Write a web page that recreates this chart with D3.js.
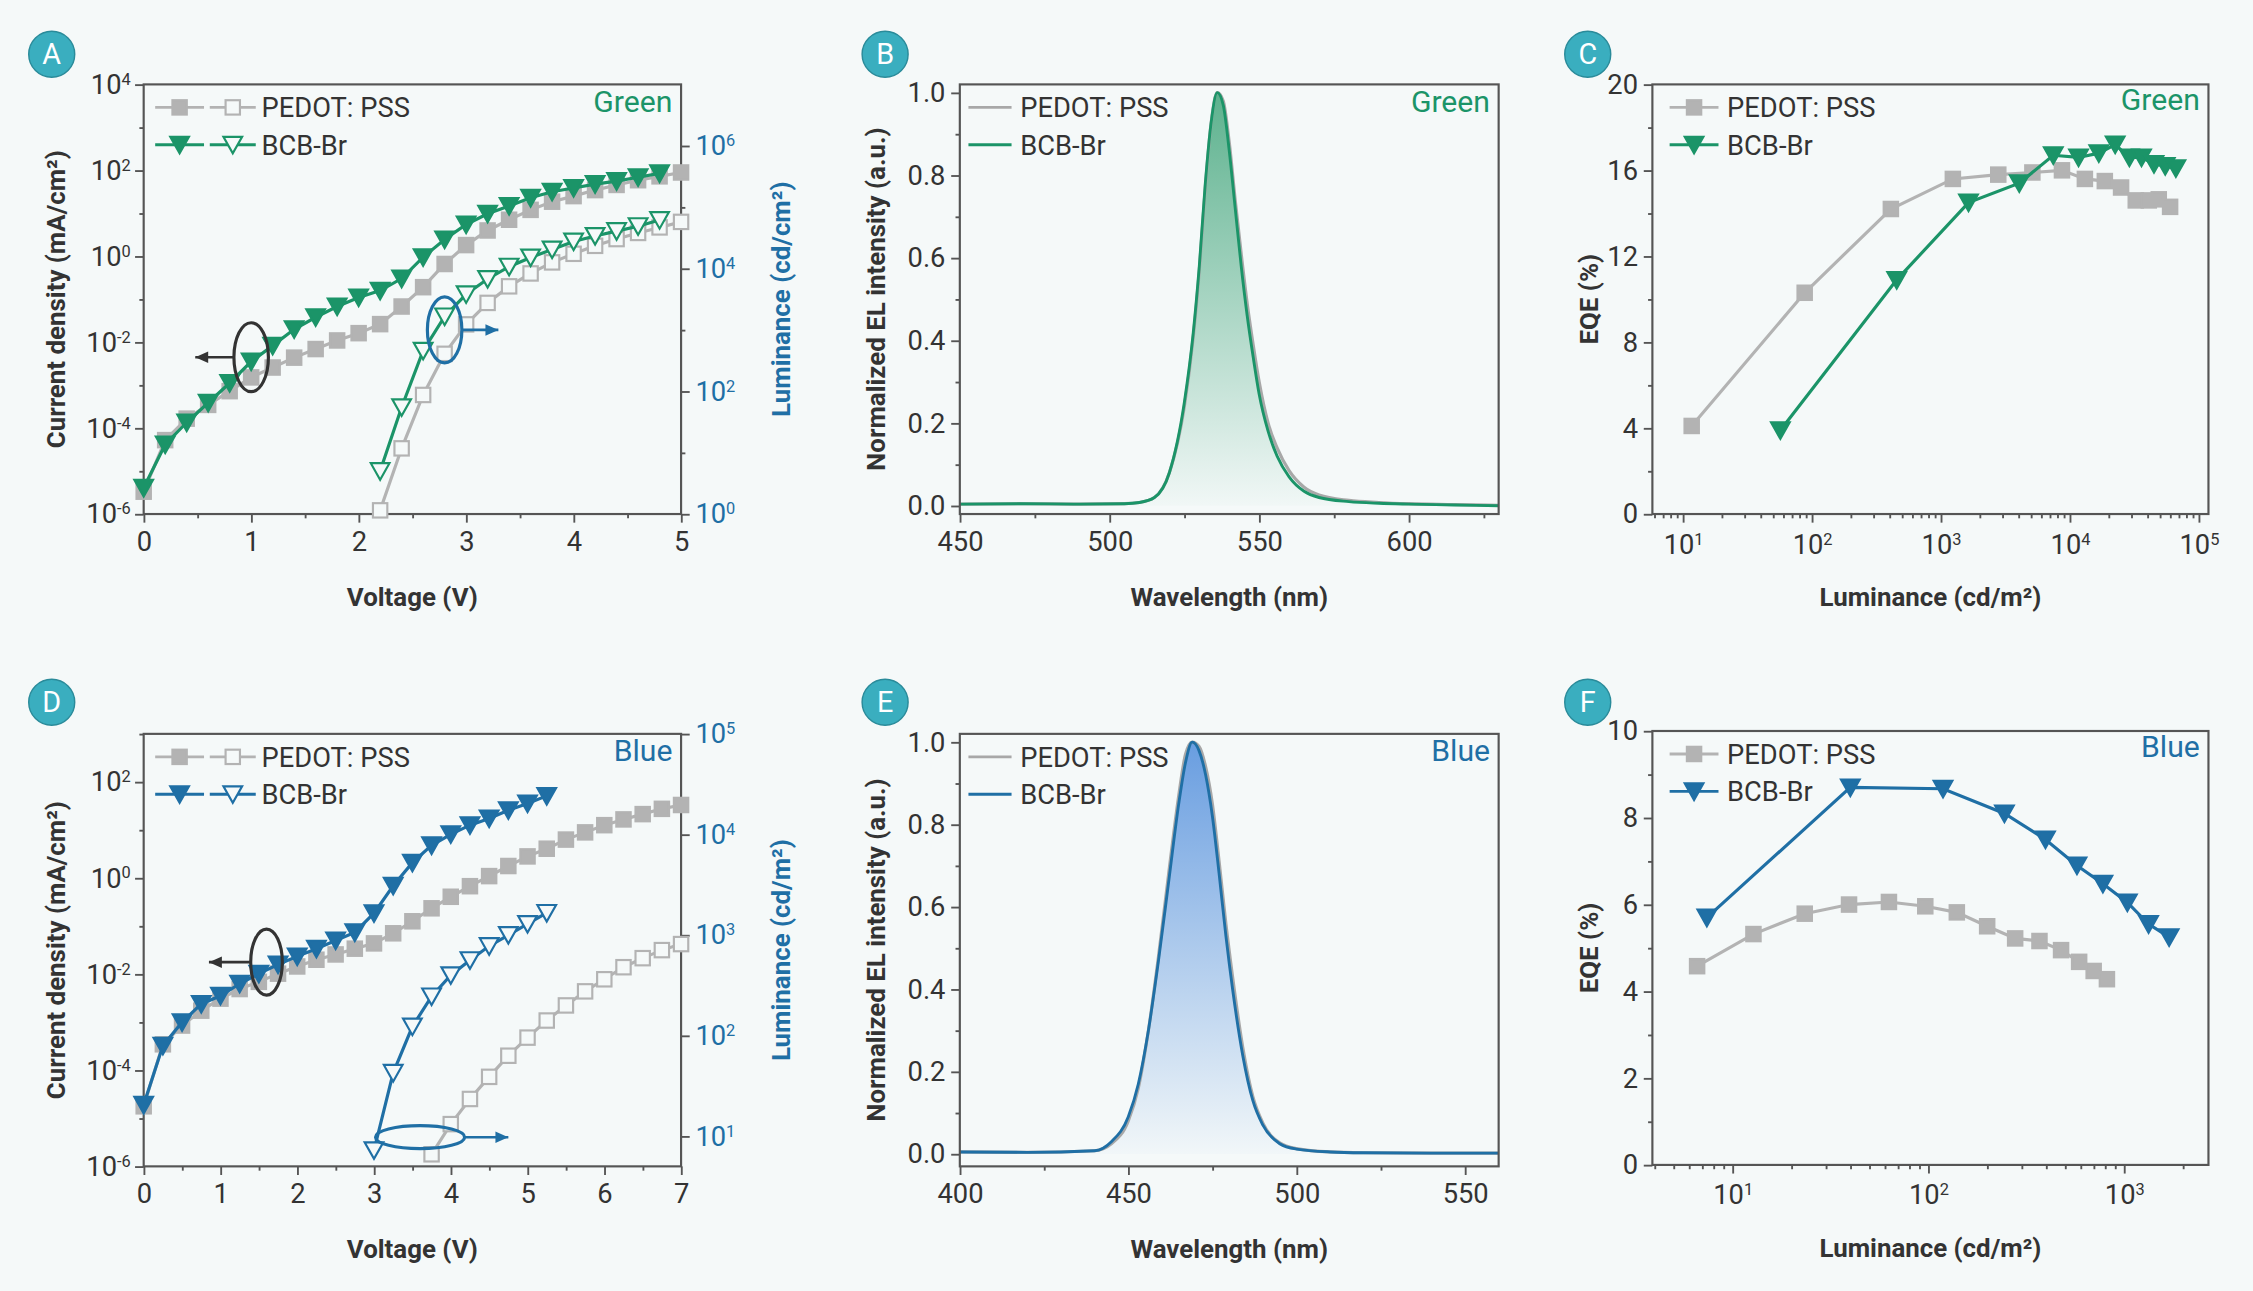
<!DOCTYPE html>
<html><head><meta charset="utf-8">
<script src="https://cdn.jsdelivr.net/npm/d3@7"></script>
<style>
 body{margin:0;background:#f5f9f9;}
 text{font-family:Roboto,"Noto Sans",sans-serif;fill:#333;}
</style></head><body>
<script>
// ---- data ----
const vA = [0,0.2,0.4,0.6,0.8,1.0,1.2,1.4,1.6,1.8,2.0,2.2,2.4,2.6,2.8,3.0,3.2,3.4,3.6,3.8,4.0,4.2,4.4,4.6,4.8,5.0];
const jA_pedot = [-5.48,-4.28,-3.78,-3.46,-3.14,-2.82,-2.59,-2.36,-2.16,-1.96,-1.79,-1.58,-1.17,-0.72,-0.18,0.26,0.60,0.85,1.08,1.27,1.40,1.54,1.66,1.77,1.86,1.95];
const jA_bcb = [-5.39,-4.38,-3.87,-3.41,-2.95,-2.45,-2.08,-1.70,-1.42,-1.17,-0.96,-0.80,-0.52,-0.02,0.39,0.74,0.99,1.17,1.36,1.50,1.59,1.68,1.75,1.84,1.93];
const vA_lum = [2.2,2.4,2.6,2.8,3.0,3.2,3.4,3.6,3.8,4.0,4.2,4.4,4.6,4.8,5.0];
const lA_pedot = [0.06,1.07,1.94,2.61,3.09,3.44,3.71,3.92,4.10,4.24,4.37,4.48,4.58,4.67,4.76];
const lA_bcb = [0.70,1.74,2.66,3.22,3.58,3.83,4.03,4.18,4.31,4.44,4.53,4.61,4.69,4.79];

const vD = [0,0.25,0.5,0.75,1.0,1.25,1.5,1.75,2.0,2.25,2.5,2.75,3.0,3.25,3.5,3.75,4.0,4.25,4.5,4.75,5.0,5.25,5.5,5.75,6.0,6.25,6.5,6.75,7.0];
const jD_pedot = [-4.75,-3.46,-3.07,-2.76,-2.51,-2.31,-2.16,-1.99,-1.84,-1.70,-1.59,-1.47,-1.36,-1.15,-0.90,-0.63,-0.39,-0.17,0.04,0.25,0.45,0.61,0.80,0.95,1.10,1.22,1.33,1.44,1.52];
const jD_bcb = [-4.72,-3.49,-3.0,-2.62,-2.45,-2.20,-1.99,-1.80,-1.63,-1.47,-1.30,-1.13,-0.73,-0.16,0.32,0.68,0.91,1.10,1.24,1.41,1.55,1.71];
const vD_lumB = [3.0,3.25,3.5,3.75,4.0,4.25,4.5,4.75,5.0,5.25];
const lD_bcb = [0.86,1.63,2.09,2.39,2.60,2.75,2.89,3.00,3.11,3.22];
const vD_lumP = [3.75,4.0,4.25,4.5,4.75,5.0,5.25,5.5,5.75,6.0,6.25,6.5,6.75,7.0];
const lD_pedot = [0.82,1.12,1.37,1.59,1.80,1.98,2.15,2.30,2.44,2.56,2.68,2.77,2.85,2.91];

const wlG = [450,470,490,505,510,515,520,525,528,530,532,534,536,538,540,542,544,546,548,550,553,556,560,565,570,580,590,600,615,630];
const elG_bcb = [0.004,0.005,0.004,0.005,0.008,0.02,0.08,0.25,0.42,0.58,0.78,0.93,1.0,0.97,0.86,0.72,0.58,0.46,0.36,0.27,0.18,0.12,0.07,0.035,0.02,0.01,0.006,0.004,0.002,0.0];
const elG_pedot = [0.004,0.005,0.004,0.005,0.008,0.02,0.08,0.24,0.41,0.57,0.77,0.93,1.0,0.98,0.88,0.74,0.61,0.49,0.39,0.30,0.20,0.14,0.085,0.045,0.026,0.013,0.008,0.005,0.003,0.001];
const wlB = [400,420,440,445,450,453,456,459,462,465,467,469,471,473,475,477,479,481,484,487,490,495,500,510,520,540,560];
const elB_bcb = [0.005,0.004,0.008,0.03,0.09,0.17,0.30,0.47,0.66,0.85,0.95,1.0,0.98,0.92,0.82,0.68,0.53,0.40,0.24,0.13,0.07,0.025,0.012,0.005,0.003,0.002,0.002];
const elB_pedot = [0.005,0.004,0.008,0.025,0.08,0.16,0.30,0.48,0.68,0.87,0.97,1.0,0.99,0.94,0.85,0.71,0.56,0.43,0.26,0.14,0.075,0.027,0.013,0.005,0.003,0.002,0.002];

const lumC_pedot = [11.7,88,410,1240,2790,5130,8700,13100,18700,25000,32500,41000,49000,60000];
const eqeC_pedot = [4.1,10.3,14.2,15.6,15.8,15.9,16.0,15.6,15.5,15.2,14.6,14.6,14.65,14.3];
const lumC_bcb = [57,455,1640,4060,7450,11700,16800,22500,29000,36000,45000,55000,66500];
const eqeC_bcb = [3.9,10.9,14.5,15.4,16.7,16.6,16.8,17.2,16.6,16.6,16.3,16.2,16.1];
const lumF_pedot = [6.6,12.8,23.4,39.4,63,96.6,140,200,278,370,477,590,700,818];
const eqeF_pedot = [4.58,5.32,5.79,6.0,6.06,5.96,5.82,5.5,5.22,5.16,4.95,4.68,4.47,4.28];
const lumF_bcb = [7.4,40,119,245,397,575,780,1040,1335,1700];
const eqeF_bcb = [5.7,8.7,8.67,8.1,7.5,6.9,6.48,6.05,5.55,5.25];

const GREEN = "#1b9468", BLUE = "#1f6fa5", GRAY = "#b3b3b3", AX = "#555";

const svg = d3.select("body").append("svg")
  .attr("width", 2253).attr("height", 1291).attr("viewBox", "0 0 1568 897");
svg.append("rect").attr("width",1568).attr("height",897).attr("fill","#f5f9f9");

function supLabel(sel, base, exp) {
  sel.text(null);
  sel.append("tspan").text(base);
  sel.append("tspan").attr("dy", "-0.55em").attr("font-size", "0.6em").text(exp);
}

function letter(x, y, t) {
  svg.append("circle").attr("cx", x).attr("cy", y).attr("r", 16).attr("fill", "#3aaebf").attr("stroke", "#2a8b9a");
  svg.append("text").attr("x", x).attr("y", y + 7).attr("text-anchor", "middle").attr("font-size", 20)
    .style("fill", "#fff").text(t);
}

function frame(x0, x1, y0, y1) {
  svg.append("rect").attr("x", x0).attr("y", y0).attr("width", x1 - x0).attr("height", y1 - y0)
    .attr("fill", "none").attr("stroke", AX).attr("stroke-width", 1.5);
}

function styleAxis(g, color) {
  g.select(".domain").remove();
  g.selectAll("line").attr("stroke", color || AX).attr("stroke-width", 1.3);
  g.selectAll("text").attr("font-size", 19).style("fill", color || "#333");
}

function ticks(g, orient, scale, vals, len, trans) {
  const a = (orient === "left" ? d3.axisLeft : orient === "right" ? d3.axisRight : d3.axisBottom)(scale)
    .tickValues(vals).tickSize(len).tickFormat("");
  const gg = svg.append("g").attr("transform", trans).call(a);
  gg.select(".domain").remove();
  gg.selectAll("line").attr("stroke", AX).attr("stroke-width", 1.3);
}

function marker(g, type, x, y, color, open, s) {
  s = s || 1;
  if (type === "sq") {
    g.append("rect").attr("x", x - 5*s).attr("y", y - 5*s).attr("width", 10*s).attr("height", 10*s)
      .attr("fill", open ? "#f5f9f9" : color).attr("stroke", color).attr("stroke-width", 1.5);
  } else {
    g.append("path").attr("d", `M${x-6.5*s},${y-5.5*s}L${x+6.5*s},${y-5.5*s}L${x},${y+6*s}Z`)
      .attr("fill", open ? "#f5f9f9" : color).attr("stroke", color).attr("stroke-width", 1.5);
  }
}

function series(xs, ys, sx, sy, color, type, open) {
  const g = svg.append("g");
  const pts = xs.slice(0, ys.length).map((x, i) => [sx(x), sy(ys[i])]);
  g.append("path").attr("d", d3.line()(pts)).attr("fill", "none").attr("stroke", color).attr("stroke-width", 2.2);
  pts.forEach(p => marker(g, type, p[0], p[1], color, open));
}

function legend(x, y, color, dual) {
  const rows = [["PEDOT: PSS", GRAY], ["BCB-Br", color]];
  rows.forEach((r, i) => {
    const yy = y + i * 26;
    const g = svg.append("g");
    g.append("line").attr("x1", x).attr("x2", x + 34).attr("y1", yy).attr("y2", yy).attr("stroke", r[1]).attr("stroke-width", 2);
    marker(g, i ? "tri" : "sq", x + 17, yy, r[1], false);
    let tx = x + 40;
    if (dual) {
      g.append("line").attr("x1", x + 38).attr("x2", x + 70).attr("y1", yy).attr("y2", yy).attr("stroke", r[1]).attr("stroke-width", 2);
      marker(g, i ? "tri" : "sq", x + 54, yy, r[1], true);
      tx = x + 74;
    }
    svg.append("text").attr("x", tx).attr("y", yy + 7).attr("font-size", 19).text(r[0]);
  });
}

function corner(x, y, t, c) {
  svg.append("text").attr("x", x).attr("y", y).attr("text-anchor", "end").attr("font-size", 21).style("fill", c).text(t);
}

function ytitle(x, y, t, c) {
  svg.append("text").attr("transform", `translate(${x},${y}) rotate(-90)`).attr("text-anchor", "middle")
    .attr("font-size", 18).attr("font-weight", "bold").style("fill", c || "#333").text(t);
}
function xtitle(x, y, t) {
  svg.append("text").attr("x", x).attr("y", y).attr("text-anchor", "middle")
    .attr("font-size", 18).attr("font-weight", "bold").text(t);
}

function annot(cx, cy, rx, ry, x1, x2, col) {
  svg.append("ellipse").attr("cx", cx).attr("cy", cy).attr("rx", rx).attr("ry", ry)
    .attr("fill", "none").attr("stroke", col).attr("stroke-width", 2.2);
  svg.append("line").attr("x1", x1).attr("x2", x2).attr("y1", cy).attr("y2", cy).attr("stroke", col).attr("stroke-width", 1.8);
  const d = x2 > x1 ? 1 : -1;
  svg.append("path").attr("d", `M${x2},${cy}L${x2 - d*9},${cy-4}L${x2 - d*9},${cy+4}Z`).attr("fill", col);
}

// ---- JV-L panels ----
function jvl(o) {
  const { x0, x1, y0, y1 } = o;
  const sx = d3.scaleLinear().domain([0, o.vmax]).range([x0, x1]);
  const sy = d3.scaleLinear().domain(o.jdom).range([y1, y0]);  // log10 values
  const sr = d3.scaleLinear().domain(o.ldom).range([y1, y0]);
  const bx = svg.append("g").attr("transform", `translate(0,${y1})`)
    .call(d3.axisBottom(sx).tickValues(d3.range(0, o.vmax + 1)).tickSize(6).tickPadding(6).tickFormat(d3.format("d")));
  styleAxis(bx);
  ticks(bx, "bottom", sx, d3.range(0.5, o.vmax, 1), 3, `translate(0,${y1})`);
  const lv = d3.range(o.jdom[0], o.jdom[1] + 1);
  const ly = svg.append("g").attr("transform", `translate(${x0},0)`)
    .call(d3.axisLeft(sy).tickValues(lv.filter(v => v % 2 === 0)).tickSize(6).tickPadding(3));
  styleAxis(ly);
  ly.selectAll(".tick text").each(function(d) { supLabel(d3.select(this), "10", d); });
  ticks(ly, "left", sy, lv.filter(v => v % 2 !== 0), 3, `translate(${x0},0)`);
  const ry = svg.append("g").attr("transform", `translate(${x1},0)`)
    .call(d3.axisRight(sr).tickValues(o.rlab).tickSize(6).tickPadding(4));
  styleAxis(ry, BLUE);
  ry.selectAll("line").attr("stroke", AX);
  ry.selectAll(".tick text").each(function(d) { supLabel(d3.select(this), "10", d); });
  if (o.rminor.length) ticks(ry, "right", sr, o.rminor, 3, `translate(${x1},0)`);
  frame(x0, x1, y0, y1);
  series(o.vp, o.jp, sx, sy, GRAY, "sq", false);
  series(o.vlp, o.lp, sx, sr, GRAY, "sq", true);
  series(o.vlb, o.lb, sx, sr, o.col, "tri", true);
  series(o.vp, o.jb, sx, sy, o.col, "tri", false);
  o.ann(sx, sy, sr);
  legend(x0 + 8, y0 + 16, o.col, true);
  corner(x1 - 6, y0 + 19, o.name, o.col);
  ytitle(x0 - 55, (y0 + y1) / 2, "Current density (mA/cm²)");
  ytitle(x1 + 76, (y0 + y1) / 2, o.rtitle, BLUE);
  xtitle((x0 + x1) / 2, y1 + 64, "Voltage (V)");
}

jvl({ x0: 100, x1: 474, y0: 58, y1: 357, vmax: 5, jdom: [-6, 4], ldom: [0, 7], rlab: [0, 2, 4, 6], rminor: [1, 3, 5],
  vp: vA, jp: jA_pedot, jb: jA_bcb, vlp: vA_lum, lp: lA_pedot, vlb: vA_lum, lb: lA_bcb, col: GREEN, name: "Green",
  rtitle: "Luminance (cd/cm²)",
  ann: (sx, sy, sr) => {
    annot(sx(1.0), sy(-2.35), 12, 24, sx(1.0) - 12, sx(0.48), "#333");
    annot(sx(2.8), sr(3.0), 12, 23, sx(2.8) + 12, sx(3.3), BLUE);
  } });

jvl({ x0: 100, x1: 474, y0: 510, y1: 811, vmax: 7, jdom: [-6, 3], ldom: [0.7, 5], rlab: [1, 2, 3, 4, 5], rminor: [],
  vp: vD, jp: jD_pedot, jb: jD_bcb, vlp: vD_lumP, lp: lD_pedot, vlb: vD_lumB, lb: lD_bcb, col: BLUE, name: "Blue",
  rtitle: "Luminance (cd/m²)",
  ann: (sx, sy, sr) => {
    annot(sx(1.6), sy(-1.75), 11, 23, sx(1.6) - 11, sx(0.85), "#333");
    annot(sx(3.6), sr(0.99), 31, 8, sx(3.6) + 31, sx(4.75), BLUE);
  } });

// ---- spectra ----
function spec(o) {
  const { x0, x1, y0, y1 } = o;
  const sx = d3.scaleLinear().domain(o.xdom).range([x0, x1]);
  const sy = d3.scaleLinear().domain(o.ydom).range([y1, y0]);
  const bx = svg.append("g").attr("transform", `translate(0,${y1})`)
    .call(d3.axisBottom(sx).tickValues(o.xt).tickSize(6).tickPadding(6).tickFormat(d3.format("d")));
  styleAxis(bx);
  ticks(bx, "bottom", sx, o.xt.map(v => v + 25).filter(v => v < o.xdom[1]), 3, `translate(0,${y1})`);
  const ly = svg.append("g").attr("transform", `translate(${x0},0)`)
    .call(d3.axisLeft(sy).tickValues([0, 0.2, 0.4, 0.6, 0.8, 1.0]).tickSize(6).tickPadding(4).tickFormat(d3.format(".1f")));
  styleAxis(ly);
  ticks(ly, "left", sy, [0.1, 0.3, 0.5, 0.7, 0.9], 3, `translate(${x0},0)`);
  const id = "grad" + o.name;
  const gr = svg.append("defs").append("linearGradient").attr("id", id)
    .attr("gradientUnits", "userSpaceOnUse").attr("x1", 0).attr("x2", 0).attr("y1", sy(1)).attr("y2", sy(0));
  gr.append("stop").attr("offset", 0).attr("stop-color", o.fill).attr("stop-opacity", 0.75);
  gr.append("stop").attr("offset", 1).attr("stop-color", o.fill).attr("stop-opacity", 0.02);
  const area = d3.area().x((d, i) => sx(o.wl[i])).y0(sy(0)).y1(d => sy(d)).curve(d3.curveMonotoneX);
  const line = d3.line().x((d, i) => sx(o.wl[i])).y(d => sy(d)).curve(d3.curveMonotoneX);
  svg.append("path").attr("d", area(o.b)).attr("fill", `url(#${id})`);
  svg.append("path").attr("d", line(o.p)).attr("fill", "none").attr("stroke", "#a8a8a8").attr("stroke-width", 2.2);
  svg.append("path").attr("d", line(o.b)).attr("fill", "none").attr("stroke", o.col).attr("stroke-width", 2);
  frame(x0, x1, y0, y1);
  [["PEDOT: PSS", "#a8a8a8"], ["BCB-Br", o.col]].forEach((r, i) => {
    const yy = y0 + 16 + i * 26;
    svg.append("line").attr("x1", x0 + 6).attr("x2", x0 + 36).attr("y1", yy).attr("y2", yy).attr("stroke", r[1]).attr("stroke-width", 2);
    svg.append("text").attr("x", x0 + 42).attr("y", yy + 7).attr("font-size", 19).text(r[0]);
  });
  corner(x1 - 6, y0 + 19, o.name, o.col);
  ytitle(x0 - 52, (y0 + y1) / 2, "Normalized EL intensity (a.u.)");
  xtitle((x0 + x1) / 2, y1 + 64, "Wavelength (nm)");
}
spec({ x0: 668, x1: 1043, y0: 58, y1: 357, xdom: [450, 630], ydom: [-0.02, 1.02], xt: [450, 500, 550, 600],
  wl: wlG, b: elG_bcb, p: elG_pedot, col: GREEN, fill: "#2a9a6a", name: "Green" });
spec({ x0: 668, x1: 1043, y0: 510, y1: 811, xdom: [400, 560], ydom: [-0.03, 1.02], xt: [400, 450, 500, 550],
  wl: wlB, b: elB_bcb, p: elB_pedot, col: BLUE, fill: "#3a7fd8", name: "Blue" });

// ---- EQE ----
function eqe(o) {
  const { x0, x1, y0, y1 } = o;
  const sx = d3.scaleLog().domain(o.xdom).range([x0, x1]);
  const sy = d3.scaleLinear().domain(o.ydom).range([y1, y0]);
  const bx = svg.append("g").attr("transform", `translate(0,${y1})`)
    .call(d3.axisBottom(sx).tickValues(o.dec.map(e => Math.pow(10, e))).tickSize(6).tickPadding(8));
  styleAxis(bx);
  bx.selectAll(".tick text").each(function(d) { supLabel(d3.select(this), "10", Math.round(Math.log10(d))); });
  const minor = [];
  for (let e = o.dec[0] - 1; e <= o.dec[o.dec.length - 1]; e++) for (let k = 2; k < 10; k++) {
    const v = k * Math.pow(10, e); if (v > o.xdom[0] && v < o.xdom[1]) minor.push(v);
  }
  ticks(bx, "bottom", sx, minor, 3, `translate(0,${y1})`);
  const ly = svg.append("g").attr("transform", `translate(${x0},0)`)
    .call(d3.axisLeft(sy).tickValues(o.yt).tickSize(6).tickPadding(4));
  styleAxis(ly);
  ticks(ly, "left", sy, o.ym, 3, `translate(${x0},0)`);
  frame(x0, x1, y0, y1);
  series(o.lp, o.ep, sx, sy, GRAY, "sq", false);
  series(o.lb, o.eb, sx, sy, o.col, "tri", false);
  legend(x0 + 12, y0 + 16, o.col, false);
  corner(x1 - 6, y0 + 18, o.name, o.col);
  ytitle(x0 - 38, (y0 + y1) / 2, "EQE (%)");
  xtitle((x0 + x1) / 2, y1 + 64, "Luminance (cd/m²)");
}
eqe({ x0: 1150, x1: 1537, y0: 58, y1: 357, xdom: [5.8, 1.19e5], dec: [1, 2, 3, 4, 5], ydom: [0, 20],
  yt: [0, 4, 8, 12, 16, 20], ym: [2, 6, 10, 14, 18],
  lp: lumC_pedot, ep: eqeC_pedot, lb: lumC_bcb, eb: eqeC_bcb, col: GREEN, name: "Green" });
eqe({ x0: 1150, x1: 1537, y0: 508, y1: 810, xdom: [3.9, 2700], dec: [1, 2, 3], ydom: [0, 10],
  yt: [0, 2, 4, 6, 8, 10], ym: [1, 3, 5, 7, 9],
  lp: lumF_pedot, ep: eqeF_pedot, lb: lumF_bcb, eb: eqeF_bcb, col: BLUE, name: "Blue" });

letter(36, 37, "A"); letter(616, 37, "B"); letter(1105, 37, "C");
letter(36, 488, "D"); letter(616, 488, "E"); letter(1105, 488, "F");
</script>
</body></html>
